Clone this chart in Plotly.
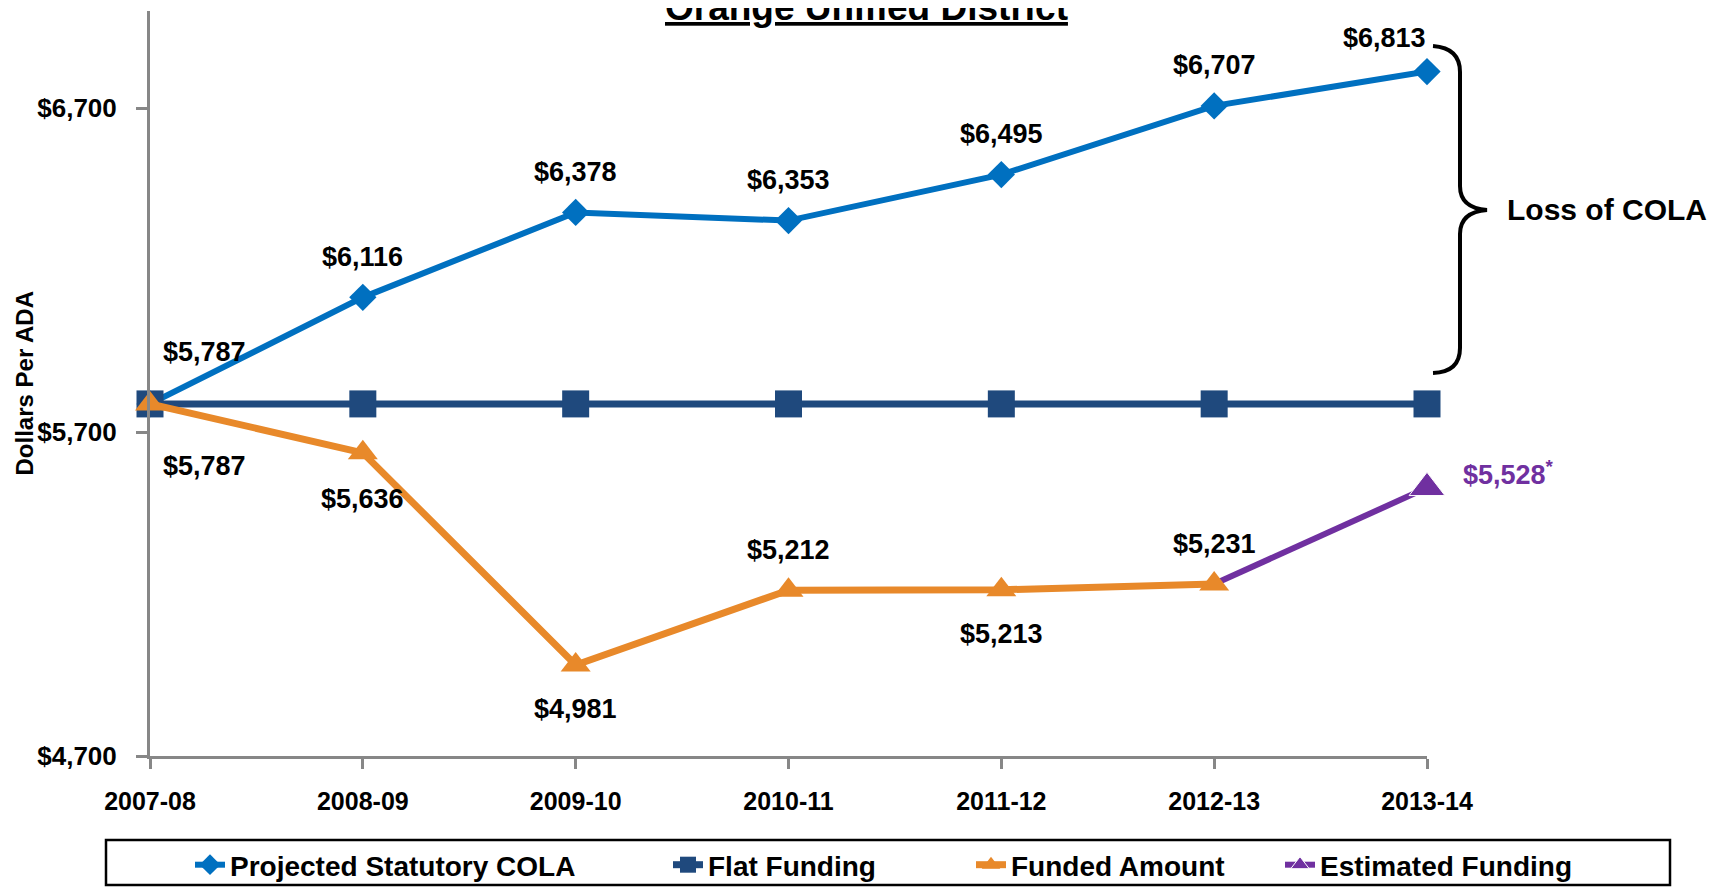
import plotly.graph_objects as go

# ---------------- data ----------------
years = ["2007-08", "2008-09", "2009-10", "2010-11", "2011-12", "2012-13", "2013-14"]
cola = [5787, 6116, 6378, 6353, 6495, 6707, 6813]
flat = [5787, 5787, 5787, 5787, 5787, 5787, 5787]
funded = [5787, 5636, 4981, 5212, 5213, 5231, None]
estimated = [None, None, None, None, None, 5231, 5528]
y_tick_vals = [4700, 5700, 6700]
y_tick_text = ["$4,700", "$5,700", "$6,700"]
series_names = ["Projected Statutory COLA", "Flat Funding", "Funded Amount", "Estimated Funding"]
title_text = "Orange Unified District"
brace_text = "Loss of COLA"
y_title = "Dollars Per ADA"

# ---------------- style ----------------
FONT = "Liberation Sans, Arial, sans-serif"
C_COLA = "#0070C0"
C_FLAT = "#1F497D"
C_FUND = "#E8892A"
C_EST = "#7030A0"
AX = "#878787"

OFF = 8  # default page body margin
W, H = 1720 - OFF, 887 - OFF
# plot area in page pixels
PL, PR, PT, PB = 150, 1427, 11, 756
ML, MR, MT, MB = PL - OFF, W - (PR - OFF), PT - OFF, H - (PB - OFF)
PW = PR - PL
PH = PB - PT


def px_x(p):
    return (p - PL) / PW


def px_y(p):
    return (PB - p) / PH


cola_shift = [(54, 52), (0, 40), (0, 40), (0, 41), (0, 41), (0, 41), (-43, 34)]
fund_shift = [(54, -62), (0, -46), (0, -44), (0, 40), (0, -44), (0, 40)]

# estimated marker hidden at its first point (it sits under the funded marker)
est_sizes = [31, 31, 31, 31, 31, 0, 31]

fig = go.Figure()

fig.add_trace(go.Scatter(
    x=years, y=cola, name=series_names[0], mode="lines+markers",
    line=dict(color=C_COLA, width=6),
    marker=dict(symbol="diamond", size=21, color=C_COLA, opacity=1),
    legend="legend", cliponaxis=False))
fig.add_trace(go.Scatter(
    x=years, y=flat, name=series_names[1], mode="lines+markers",
    line=dict(color=C_FLAT, width=7),
    marker=dict(symbol="square", size=27, color=C_FLAT, opacity=1),
    legend="legend2", cliponaxis=False))
fig.add_trace(go.Scatter(
    x=years, y=estimated, name=series_names[3], mode="lines+markers",
    line=dict(color=C_EST, width=6),
    marker=dict(symbol="triangle-up", size=est_sizes, color=C_EST, opacity=1),
    legend="legend4", cliponaxis=False))
fig.add_trace(go.Scatter(
    x=years, y=funded, name=series_names[2], mode="lines+markers",
    line=dict(color=C_FUND, width=7),
    marker=dict(symbol="triangle-up", size=26, color=C_FUND, opacity=1),
    legend="legend3", cliponaxis=False))

annotations = []
lab_font = dict(family=FONT, size=27, color="black", weight="bold")
for i, v in enumerate(cola):
    dx, dy = cola_shift[i]
    annotations.append(dict(x=years[i], y=v, text=f"${v:,}", showarrow=False,
                            xanchor="center", yanchor="middle",
                            xshift=dx, yshift=dy, font=lab_font))
for i, v in enumerate(funded):
    if v is None:
        continue
    dx, dy = fund_shift[i]
    annotations.append(dict(x=years[i], y=v, text=f"${v:,}", showarrow=False,
                            xanchor="center", yanchor="middle",
                            xshift=dx, yshift=dy, font=lab_font))
annotations.append(dict(x=years[-1], y=estimated[-1], text=f"${estimated[-1]:,}<sup>*</sup>",
                        showarrow=False, xanchor="left", yanchor="middle", xshift=34, yshift=15,
                        font=dict(family=FONT, size=27, color=C_EST, weight="bold")))

# title (clipped at top as in the source)
annotations.append(dict(xref="paper", yref="paper", x=px_x(866), y=px_y(7),
                        xanchor="center", yanchor="middle",
                        text=f"<u>{title_text}</u>", showarrow=False,
                        font=dict(family=FONT, size=37, color="black", weight="bold")))
# y title
annotations.append(dict(xref="paper", yref="paper", x=px_x(24), y=0.5, textangle=-90,
                        xanchor="center", yanchor="middle",
                        text=y_title, showarrow=False,
                        font=dict(family=FONT, size=24, color="black", weight="bold")))
# brace label
annotations.append(dict(xref="paper", yref="paper", x=px_x(1505), y=px_y(210),
                        xanchor="left", yanchor="middle",
                        text=brace_text, showarrow=False,
                        font=dict(family=FONT, size=30, color="black", weight="bold")))

# brace path in paper coords
pts = {
    "top": (1433, 46), "c1": (1460, 48), "v1": (1460, 72), "v2": (1460, 186),
    "c2": (1460, 208), "tip": (1487, 210), "c3": (1460, 212), "v3": (1460, 234),
    "v4": (1460, 348), "c4": (1460, 372), "bot": (1433, 373)}


def P(k):
    x, y = pts[k]
    return f"{px_x(x):.5f},{px_y(y):.5f}"


brace_path = (f"M {P('top')} Q {P('c1')} {P('v1')} L {P('v2')} Q {P('c2')} {P('tip')} "
              f"Q {P('c3')} {P('v3')} L {P('v4')} Q {P('c4')} {P('bot')}")

shapes = [
    dict(type="path", xref="paper", yref="paper", path=brace_path,
         line=dict(color="black", width=4)),
    dict(type="rect", xref="paper", yref="paper",
         x0=px_x(106), x1=px_x(1670), y0=px_y(840), y1=px_y(885),
         line=dict(color="black", width=2.5), fillcolor="rgba(0,0,0,0)"),
]

leg_font = dict(family=FONT, size=28, color="black", weight="bold")
text_starts = [230, 708, 1011, 1320]


def leg(i):
    return dict(orientation="h", x=px_x(text_starts[i] - 40), y=px_y(865),
                xanchor="left", yanchor="middle", font=leg_font,
                bgcolor="rgba(0,0,0,0)", borderwidth=0)


fig.update_layout(
    width=W, height=H,
    margin=dict(l=ML, r=MR, t=MT, b=MB, autoexpand=False),
    paper_bgcolor="white", plot_bgcolor="white",
    showlegend=True,
    legend=leg(0), legend2=leg(1), legend3=leg(2), legend4=leg(3),
    annotations=annotations, shapes=shapes,
    xaxis=dict(type="category", categoryorder="array", categoryarray=years,
               range=[0, 6], showgrid=False, zeroline=False,
               showline=True, linecolor=AX, linewidth=3,
               ticks="outside", ticklen=10, tickwidth=3, tickcolor=AX,
               ticklabelstandoff=11,
               tickfont=dict(family=FONT, size=25, color="black", weight="bold")),
    yaxis=dict(range=[4700, 7000], tickvals=y_tick_vals, ticktext=y_tick_text,
               showgrid=False, zeroline=False,
               showline=True, linecolor=AX, linewidth=3,
               ticks="outside", ticklen=11, tickwidth=3, tickcolor=AX,
               ticklabelstandoff=14,
               tickfont=dict(family=FONT, size=26, color="black", weight="bold")),
)

fig.write_html("out.html")
